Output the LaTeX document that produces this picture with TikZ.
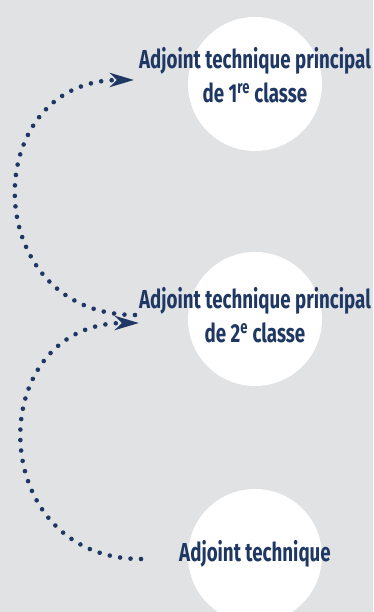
\documentclass[tikz,border=0pt]{standalone}
\usepackage{fontspec}
\setmainfont{Fira Sans}[FakeStretch=0.72]
\usepackage{xcolor}
\usetikzlibrary{arrows.meta}

\definecolor{navy}{HTML}{1F3763}
\definecolor{bggray}{HTML}{E1E2E4}

\begin{document}
\begin{tikzpicture}[x=1pt,y=1pt,
        bubble/.style={circle, fill=white, minimum size=134pt, inner sep=0pt},
        grade/.style={text=navy, font=\bfseries\fontsize{26}{34}\selectfont, align=center, inner sep=0pt},
        dots/.style={navy, line width=4.6pt, line cap=round, dash pattern=on 0pt off 10.5pt}]
    \useasboundingbox (0,0) rectangle (373,612);
    \fill[bggray] (0,0) rectangle (373,612);
    \clip (0,0) rectangle (373,612);

    \node[bubble] (c1) at (255,528) {};
    \node[bubble] (c2) at (255,293) {};
    \node[bubble] (c3) at (255,56) {};

    \node[grade] (t1) at (255,537) {Adjoint technique principal\\de 1\textsuperscript{re} classe};
    \node[grade] (t2) at (255,297) {Adjoint technique principal\\de 2\textsuperscript{e} classe};
    \node[grade] (t3) at (255,58) {Adjoint technique};

    % arcs
    \draw[dots, -{Stealth[length=24pt, width=14pt, inset=7pt]}]
        ([shift={(-4,0)}]t2.west) .. controls +(-157,0) and +(-157,0) .. ([shift={(-5,-5)}]t1.west);
    \draw[dots, -{Stealth[length=24pt, width=14pt, inset=7pt]}]
        ([shift={(-38,-5)}]t3.west) .. controls +(-157,0) and +(-157,0) .. ([shift={(0,-8)}]t2.west);
\end{tikzpicture}
\end{document}
